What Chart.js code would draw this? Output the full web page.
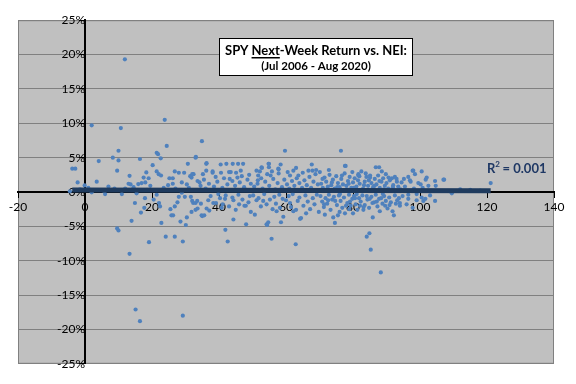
<!DOCTYPE html>
<html>
<head>
<meta charset="utf-8">
<script src="https://cdn.jsdelivr.net/npm/chart.js@4.4.0/dist/chart.umd.min.js"></script>
<style>
  body { margin: 0; background: #fff; }
  #wrap { width: 576px; height: 384px; }
</style>
</head>
<body>
<div id="wrap"><canvas id="myScatter"></canvas></div>
<script>
// NEI reading for each week (x) and SPY return over the next week, in % (y)
var nei = [
  -3.8,-2.9,-2.2,-0.1,2.0,3.5,4.1,8.3,10.0,10.0,9.6,10.7,2.0,-1.5,1.0,5.5,7.0,-4.5,9.6,10.0,6.0,8.8,
  11.9,13.3,13.0,13.6,15.9,16.9,17.5,18.0,18.3,19.0,
  21.4,22.0,22.7,25.2,26.2,26.2,26.8,28.0,28.9,29.6,
  21.4,21.8,22.6,16.4,20.2,23.8,24.4,15.4,17.9,21.4,
  28.0,29.8,28.9,13.9,13.3,15.1,16.4,29.2,19.1,24.1,
  26.8,29.2,22.8,28.5,14.9,16.7,17.7,22.1,22.4,25.5,
  25.8,26.3,26.8,27.6,12.0,14.5,19.5,23.5,24.8,27.0,
  11.0,20.5,18.5,
  30.7,33.1,30.4,31.4,31.8,32.4,33.6,34.2,31.6,34.9,
  33.0,36.3,36.2,40.5,42.2,44.1,45.7,47.2,38.1,43.0,
  43.5,46.5,40.6,38.1,45.1,32.0,35.2,36.2,46.8,43.2,
  44.0,30.1,30.4,31.8,32.3,33.0,33.6,34.6,34.8,35.6,
  36.3,37.1,38.3,39.1,40.3,41.1,41.8,41.9,42.6,44.3,
  43.0,44.3,46.0,47.6,48.0,48.1,33.0,35.0,32.0,33.5,
  37.0,38.5,39.5,41.0,42.5,44.8,46.2,47.5,48.5,49.5,
  36.0,39.0,41.5,45.5,49.0,37.5,39.8,42.0,44.0,45.8,
  47.0,49.2,48.8,36.8,40.8,45.0,49.5,31.0,34.5,35.5,
  51.2,51.7,52.2,52.7,52.8,54.8,54.9,54.9,55.8,57.7,
  58.4,57.8,57.8,59.7,62.2,67.7,66.7,67.9,54.4,55.4,
  61.2,63.7,51.6,52.6,50.7,51.2,53.2,54.2,54.2,54.7,
  55.7,56.0,57.2,58.2,58.5,59.2,60.0,61.2,62.2,62.9,
  64.5,64.2,54.4,50.5,51.5,53.0,53.8,55.0,56.2,56.8,
  57.5,58.8,59.5,60.3,61.0,61.8,62.5,63.2,64.0,64.8,
  65.5,66.2,67.0,67.5,68.2,68.8,69.5,65.0,60.5,63.0,
  69.0,50.2,51.8,52.5,53.5,55.2,56.5,57.0,58.0,59.0,
  60.8,61.5,62.0,63.5,64.0,65.2,65.8,66.5,67.2,68.0,
  68.5,69.2,69.8,66.0,63.0,
  70.1,76.4,77.6,77.8,81.6,81.6,85.1,85.1,86.8,87.8,
  88.6,91.6,93.0,71.6,74.1,74.6,75.5,84.1,84.9,85.3,
  85.9,88.3,91.8,92.2,94.0,94.0,77.6,83.1,
  70.5,71.0,71.5,72.0,72.5,73.0,73.5,74.0,74.5,75.0,
  75.5,76.0,76.5,77.0,77.5,78.0,78.5,79.0,79.5,80.0,
  80.5,81.0,81.5,82.0,82.5,83.0,83.5,84.0,84.5,85.5,
  86.0,86.5,87.0,87.5,88.0,88.5,89.0,89.5,90.0,90.5,
  91.0,92.0,92.5,93.5,94.5,72.8,79.8,83.8,89.8,74.8,
  78.2,82.8,86.2,90.8,70.3,70.8,71.3,71.8,72.3,72.8,
  73.3,73.8,74.3,75.2,75.8,76.3,76.8,77.3,78.3,78.8,
  79.3,79.8,80.3,80.8,81.3,81.8,82.3,82.8,83.5,84.3,
  84.8,85.5,86.3,86.8,87.3,87.8,88.8,89.3,89.8,90.3,
  90.8,91.3,92.5,93.2,94.8,76.0,80.0,88.0,
  70.9,72.2,73.7,75.3,76.7,78.7,80.2,81.9,83.3,84.7,
  86.4,87.9,89.2,90.6,91.9,93.1,94.2,71.4,74.7,77.9,
  80.6,83.2,85.8,88.4,90.9,93.7,72.6,76.1,79.1,82.1,
  84.1,87.1,89.6,92.8,81.1,85.0,88.9,78.9,
  97.8,98.5,100.5,98.0,96.5,97.0,97.2,100.2,101.7,104.7,
  104.5,107.0,107.2,121.1,96.5,96.5,99.0,101.0,101.6,104.5,
  100.5,109.5,95.5,96.0,98.2,99.5,100.8,102.5,103.0,97.8,
  95.2,102.0,99.0,112.0,115.0,118.0
];
var nextWeekReturn = [
  3.4,3.4,1.4,0.95,9.7,1.5,4.5,5.0,6.0,4.6,3.1,9.3,-0.05,0.4,0.6,0.2,0.8,0.1,-5.3,-5.6,-0.3,0.5,
  19.3,2.35,1.2,1.1,1.15,1.3,2.1,1.4,2.85,2.0,
  3.0,2.6,2.4,2.0,2.0,1.2,3.0,2.8,1.4,2.8,
  5.7,5.5,4.9,4.8,3.9,10.5,6.7,-0.2,-0.9,-0.4,
  -0.7,-0.7,-0.1,-4.2,-9.0,-17.1,-18.8,-18.0,-7.3,-6.5,
  -6.5,-7.2,-4.5,-4.3,-1.6,-3.0,-2.3,-1.6,-2.1,-2.5,
  -3.4,-3.4,-2.1,-1.5,0.5,0.7,0.9,0.6,1.0,0.5,
  -0.3,-1.1,0.3,
  4.1,5.1,1.1,2.3,2.1,2.6,1.6,1.4,-0.7,7.4,
  5.0,4.2,4.1,4.0,4.1,4.1,4.1,4.1,3.0,2.9,
  2.9,3.1,2.8,2.8,2.8,2.6,2.6,3.1,2.3,1.9,
  1.6,-4.8,-3.7,-2.9,-1.6,-1.6,-2.4,-1.7,-3.4,-3.4,
  -2.4,-2.7,-1.6,-1.6,-0.9,-1.8,-1.0,-5.5,-7.2,-4.0,
  -2.1,-1.2,-1.8,-2.0,-2.0,-4.7,-2.6,-3.5,-1.3,-1.3,
  1.2,0.8,1.5,0.6,1.1,0.9,1.4,0.7,1.8,1.2,
  0.5,2.2,2.0,2.1,2.5,-0.6,-0.3,-0.5,-0.8,-0.4,
  -1.1,-0.6,-1.5,-1.2,-2.3,-2.6,-2.9,0.6,0.9,1.8,
  3.1,2.4,3.0,3.6,3.5,4.1,4.1,3.6,3.0,3.4,
  4.0,3.3,2.7,6.0,3.1,4.0,3.1,3.1,2.6,2.4,
  2.4,2.4,1.7,2.0,-3.3,-1.2,-1.3,-1.8,-4.7,-4.4,
  -6.8,-2.5,-2.8,-2.3,-4.4,-3.6,-1.2,-1.6,-2.8,-7.6,
  -3.8,-3.9,-4.8,0.8,1.2,0.5,1.5,0.9,1.9,0.4,
  1.3,0.7,1.8,1.1,0.5,1.6,0.9,2.0,1.3,0.6,
  1.7,1.0,2.2,0.6,1.5,2.6,1.1,2.8,2.9,3.5,
  3.2,-0.5,-0.9,-2.1,-0.3,-1.1,-0.7,-1.7,-0.4,-1.0,
  -0.6,-2.2,-0.3,-1.3,-0.8,-2.0,-0.5,-1.4,-2.5,-0.9,
  -1.8,-0.4,-2.9,-3.1,-2.6,
  2.9,6.0,3.8,3.8,2.6,2.4,2.4,2.1,3.6,3.6,
  3.0,2.0,1.9,-3.3,-3.7,-4.5,-3.4,-6.5,-6.0,-8.4,
  -3.7,-11.7,-2.8,-3.4,-2.0,-1.6,-3.1,-2.6,
  1.2,0.6,2.1,1.5,0.8,2.5,1.0,1.8,0.5,2.3,
  1.3,0.7,1.9,1.1,2.7,0.9,1.6,2.2,0.6,1.4,
  2.0,0.8,1.7,1.2,3.0,0.5,1.5,2.2,0.9,1.3,
  0.7,1.9,1.1,2.4,0.6,1.5,2.0,0.9,1.3,0.5,
  1.7,1.0,2.2,0.8,1.4,3.2,2.9,2.7,2.6,0.3,
  0.4,0.3,0.3,0.2,-0.6,-1.4,-2.2,-0.9,-1.7,-0.4,
  -2.6,-1.1,-0.7,-1.9,-0.5,-1.3,-2.3,-0.8,-1.6,-0.4,
  -2.0,-1.0,-0.6,-1.8,-2.6,-0.9,-1.4,-0.5,-1.9,-1.1,
  -2.3,-0.7,-1.5,-0.4,-2.1,-1.0,-1.7,-0.6,-1.3,-2.4,
  -0.8,-1.5,-0.5,-1.2,-0.6,-2.9,-3.1,-2.8,
  1.9,0.4,1.4,0.7,2.4,1.2,0.6,2.3,1.0,1.7,
  0.9,1.6,0.4,2.1,0.7,1.5,0.4,-1.8,-1.3,-2.0,
  -0.9,-2.2,-1.6,-0.9,-1.9,-0.9,-1.2,-0.3,-1.4,-2.0,
  -0.6,-1.4,-2.0,-1.7,-0.3,-1.0,-0.3,-2.5,
  3.1,2.6,3.0,3.1,2.2,1.7,1.5,1.1,1.8,0.9,
  1.6,1.8,1.8,1.3,-1.0,-0.4,-1.2,-1.3,-1.0,-1.3,
  -0.8,-0.2,0.8,-1.8,0.5,1.3,0.6,0.9,-0.5,-2.3,
  1.9,2.1,-0.3,0.4,0.3,0.2
];
// linear trend line ends
var trendX = [-3.8, 121.1];
var trendY = [0.30, 0.17];
var rSquared = '0.001';

var points = nei.map(function (x, i) { return { x: x, y: nextWeekReturn[i] }; });
var trend = trendX.map(function (x, i) { return { x: x, y: trendY[i] }; });

Chart.defaults.font.family = 'Lato';
Chart.defaults.color = '#000';

// grey plot area with a grey frame
var plotBg = {
  id: 'plotBg',
  beforeDraw: function (chart) {
    var a = chart.chartArea, c = chart.ctx;
    c.save();
    c.fillStyle = '#c0c0c0';
    c.fillRect(a.left, a.top, a.right - a.left, a.bottom - a.top);
    c.strokeStyle = '#808080';
    c.lineWidth = 1;
    c.strokeRect(a.left + 0.5, a.top + 0.5, a.right - a.left - 1, a.bottom - a.top - 1);
    c.restore();
  }
};

// boxed title and R² label
var labels = {
  id: 'labels',
  afterDraw: function (chart) {
    var c = chart.ctx;
    var cx = 316;
    c.save();
    c.fillStyle = '#fff';
    c.fillRect(219, 38, 194, 38);
    c.strokeStyle = '#000';
    c.lineWidth = 1;
    c.strokeRect(219.5, 38.5, 193, 37);

    c.fillStyle = '#000';
    c.textBaseline = 'alphabetic';
    c.font = 'bold 13px Lato';
    var parts = ['SPY ', 'Next', '-Week Return vs. NEI:'];
    var total = c.measureText(parts.join('')).width;
    var x = cx - total / 2;
    c.textAlign = 'left';
    c.fillText(parts.join(''), x, 55);
    var ux = x + c.measureText(parts[0]).width;
    var uw = c.measureText(parts[1]).width;
    c.fillRect(ux, 57, uw, 1.5);

    c.font = 'bold 11.5px Lato';
    c.textAlign = 'center';
    c.fillText('(Jul 2006 - Aug 2020)', cx, 70);

    // R² = 0.001
    var xs = chart.scales.x, ys = chart.scales.y;
    var rx = xs.getPixelForValue(120), ry = ys.getPixelForValue(2.8);
    c.fillStyle = '#1f3864';
    c.textAlign = 'left';
    c.font = 'bold 13px Lato';
    c.fillText('R', rx, ry);
    var w = c.measureText('R').width;
    c.font = 'bold 8px Lato';
    c.fillText('2', rx + w, ry - 6);
    c.font = 'bold 13px Lato';
    c.fillText(' = ' + rSquared, rx + w + 4, ry);
    c.restore();
  }
};

var chart = new Chart(document.getElementById('myScatter'), {
  type: 'scatter',
  data: {
    datasets: [
      {
        label: 'Trend',
        type: 'line',
        data: trend,
        borderColor: '#1f3b5e',
        borderWidth: 5,
        pointRadius: 0,
        fill: false,
        order: 0
      },
      {
        label: 'SPY next-week return',
        data: points,
        backgroundColor: '#4f81bd',
        borderWidth: 0,
        pointRadius: 2.1,
        order: 1
      }
    ]
  },
  options: {
    responsive: true,
    maintainAspectRatio: false,
    animation: false,
    layout: { padding: { left: 18, right: 22, top: 8, bottom: 8 } },
    plugins: {
      legend: { display: false },
      tooltip: { enabled: false }
    },
    scales: {
      x: {
        type: 'linear',
        min: -20,
        max: 140,
        position: { y: 0 },
        border: { color: '#000', width: 2 },
        grid: { drawOnChartArea: false, drawTicks: true, tickColor: '#000', tickLength: 5 },
        ticks: { stepSize: 20, padding: 3, font: { size: 12 }, maxRotation: 0 }
      },
      y: {
        type: 'linear',
        min: -25,
        max: 25,
        position: { x: 0 },
        border: { color: '#000', width: 2 },
        grid: { color: '#808080', lineWidth: 1, tickColor: '#000', tickLength: 5 },
        ticks: {
          stepSize: 5,
          padding: 13,
          font: { size: 12 },
          callback: function (v) { return v + '%'; }
        }
      }
    }
  },
  plugins: [plotBg, labels]
});
</script>
</body>
</html>
